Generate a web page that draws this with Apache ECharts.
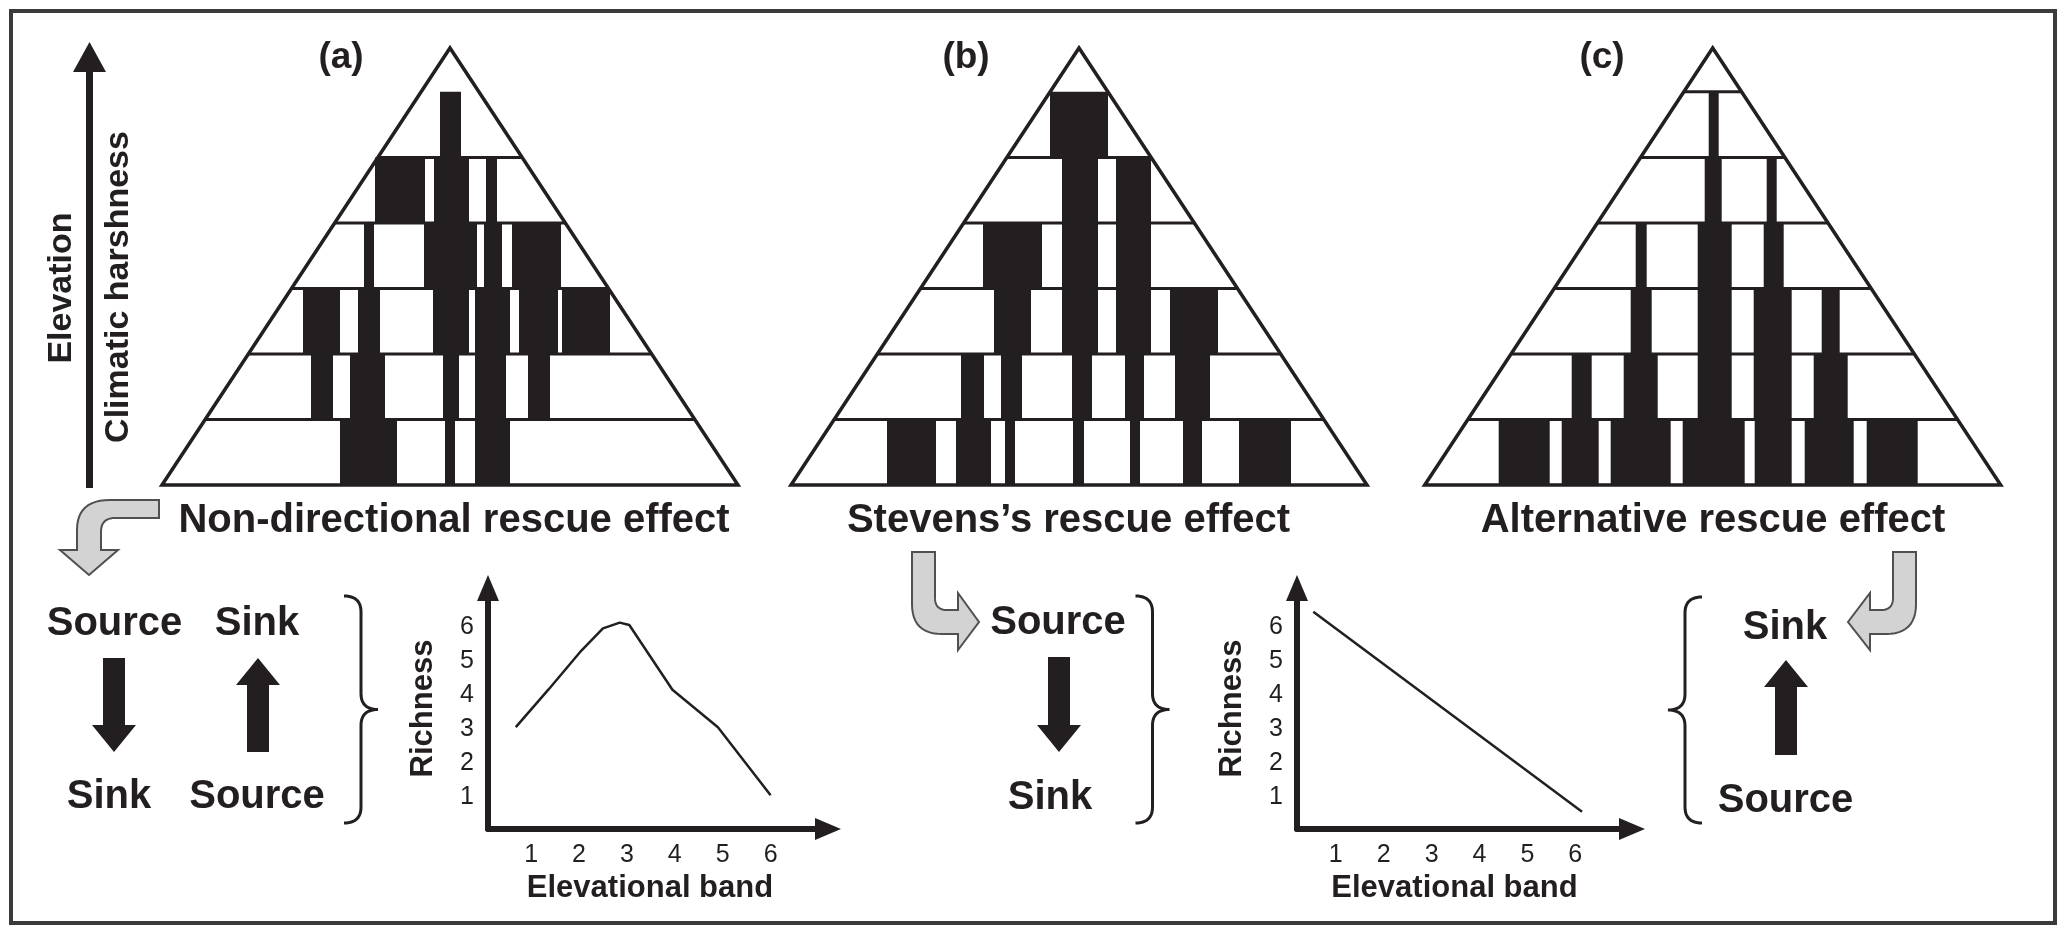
<!DOCTYPE html>
<html><head><meta charset="utf-8">
<script src="https://cdn.jsdelivr.net/npm/echarts@6/dist/echarts.min.js"></script>
<style>html,body{margin:0;padding:0;background:#fff;}#c{width:2064px;height:927px;}</style>
</head><body><div id="c"></div>
<script>
// ---------------- data ----------------
const panelLabels = ['(a)', '(b)', '(c)'];
const effectNames = ['Non-directional rescue effect', 'Stevens\u2019s rescue effect', 'Alternative rescue effect'];
// pyramid outline in (position, band) units: base corners and apex
const pyramidOutline = [[-288, 0], [0, 6.67], [288, 0]];
const bandBoundariesA = [1, 2, 3, 4, 5];
const bandBoundariesB = [1, 2, 3, 4, 5];
const bandBoundariesC = [1, 2, 3, 4, 5, 6];
// species range blocks: [left, right, band]  (band 1 = lowest elevation)
const rangesA = [
  [-10, 11, 6],
  [-75, -25, 5], [-16, 19, 5], [36, 47, 5],
  [-86, -76, 4], [-26, 27, 4], [34, 52, 4], [62, 111, 4],
  [-147, -110, 3], [-92, -70, 3], [-17, 19, 3], [25, 60, 3], [69, 108, 3], [112, 160, 3],
  [-139, -117, 2], [-100, -65, 2], [-7, 9, 2], [25, 56, 2], [78, 100, 2],
  [-110, -53, 1], [-5, 5, 1], [25, 60, 1]
];
const rangesB = [
  [-29, 29, 6],
  [-17, 19, 5], [37, 72, 5],
  [-96, -37, 4], [-17, 19, 4], [37, 72, 4],
  [-85, -48, 3], [-17, 19, 3], [37, 72, 3], [91, 139, 3],
  [-118, -95, 2], [-78, -57, 2], [-7, 13, 2], [46, 65, 2], [96, 131, 2],
  [-192, -143, 1], [-123, -88, 1], [-74, -64, 1], [-6, 5, 1], [51, 61, 1], [104, 123, 1], [160, 212, 1]
];
const rangesC = [
  [-4, 6, 6],
  [-8, 9, 5], [54, 64, 5],
  [-77, -66, 4], [-15, 19, 4], [51, 71, 4],
  [-82, -61, 3], [-15, 19, 3], [41, 79, 3], [109, 127, 3],
  [-141, -121, 2], [-89, -55, 2], [-15, 19, 2], [41, 79, 2], [101, 135, 2],
  [-214, -163, 1], [-151, -114, 1], [-102, -42, 1], [-30, 32, 1], [42, 79, 1], [92, 141, 1], [154, 205, 1]
];
const bandTicks = [1, 2, 3, 4, 5, 6];
const richnessTicks = [1, 2, 3, 4, 5, 6];
// richness curves
const humpBand = [0.68, 1.36, 2.05, 2.5, 2.85, 3.05, 3.95, 4.9, 6.0];
const humpRichness = [3.05, 4.15, 5.3, 5.95, 6.12, 6.05, 4.15, 3.05, 1.05];
const declineBand = [0.53, 6.14];
const declineRichness = [6.44, 0.57];

// ---------------- layout / style ----------------
const INK = '#231f20';
const FONT = '"Liberation Sans", Arial, Helvetica, sans-serif';
const pyramidCenters = [450, 1079, 1712.7];
const halfBase = pyramidOutline[2][0];
const apexH = pyramidOutline[1][1];
const rangeSets = [rangesA, rangesB, rangesC];
const boundarySets = [bandBoundariesA, bandBoundariesB, bandBoundariesC];

const grids = [], xAxes = [], yAxes = [], series = [];
pyramidCenters.forEach((c, i) => {
  grids.push({left: c - 290, width: 580, top: 46, height: 439});
  xAxes.push({type: 'value', gridIndex: i, min: -290, max: 290, show: false});
  yAxes.push({type: 'value', gridIndex: i, min: 0, max: 6.7, show: false});
  series.push({
    type: 'custom', xAxisIndex: i, yAxisIndex: i, z: 1,
    data: boundarySets[i].map(k => [0, k]),
    renderItem: (params, api) => {
      const k = api.value(1);
      const hw = halfBase * (apexH - k) / apexH;
      const p0 = api.coord([-hw, k]), p1 = api.coord([hw, k]);
      return {type: 'line', shape: {x1: p0[0], y1: p0[1], x2: p1[0], y2: p1[1]},
        style: {stroke: INK, lineWidth: 3}};
    }
  });
  series.push({
    type: 'custom', xAxisIndex: i, yAxisIndex: i, z: 2,
    data: rangeSets[i], encode: {x: [0, 1], y: 2},
    renderItem: (params, api) => {
      const p0 = api.coord([api.value(0), api.value(2)]);
      const p1 = api.coord([api.value(1), api.value(2) - 1]);
      return {type: 'rect', shape: {x: p0[0], y: p0[1], width: p1[0] - p0[0], height: p1[1] - p0[1]},
        style: {fill: INK}};
    }
  });
  series.push({
    type: 'custom', xAxisIndex: i, yAxisIndex: i, z: 3,
    data: [[0, 0]],
    renderItem: (params, api) => ({
      type: 'polygon', shape: {points: pyramidOutline.map(p => api.coord(p))},
      style: {fill: 'none', stroke: INK, lineWidth: 3.5, lineJoin: 'miter'}
    })
  });
});

function richnessChart(gi, left, width, xmin, namePad) {
  grids.push({left: left, width: width, top: 588, height: 241});
  const axisLine = {show: true, symbol: ['none', 'triangle'], symbolSize: [22, 26],
    lineStyle: {color: INK, width: 6}};
  xAxes.push({type: 'value', gridIndex: gi, min: xmin, max: xmin + width / 47.9,
    axisLine: axisLine, axisTick: {show: false}, splitLine: {show: false},
    axisLabel: {customValues: bandTicks, color: INK, fontSize: 25, fontFamily: FONT, margin: 14},
    name: 'Elevational band', nameLocation: 'middle', nameGap: 44,
    nameTextStyle: {color: INK, fontSize: 31, fontWeight: 'bold', fontFamily: FONT, padding: namePad}});
  yAxes.push({type: 'value', gridIndex: gi, min: 0.06, max: 0.06 + 241 / 34.06,
    axisLine: axisLine, axisTick: {show: false}, splitLine: {show: false},
    axisLabel: {customValues: richnessTicks, color: INK, fontSize: 25, fontFamily: FONT, margin: 14},
    name: 'Richness', nameLocation: 'middle', nameGap: 49,
    nameTextStyle: {color: INK, fontSize: 31, fontWeight: 'bold', fontFamily: FONT}});
}
richnessChart(3, 488, 340, 0.1, [0, 16, 0, 0]);
richnessChart(4, 1297, 335, 0.19, [0, 20, 0, 0]);
series.push({type: 'line', xAxisIndex: 3, yAxisIndex: 3, symbol: 'none', z: 5,
  data: humpBand.map((b, i) => [b, humpRichness[i]]), lineStyle: {color: INK, width: 2.5}});
series.push({type: 'line', xAxisIndex: 4, yAxisIndex: 4, symbol: 'none', z: 5,
  data: declineBand.map((b, i) => [b, declineRichness[i]]), lineStyle: {color: INK, width: 2.5}});

// ---------------- annotations ----------------
// tiny path sampler (M, L, Q, Z) -> point list for polygon/polyline
function pathPoints(d) {
  const tok = d.match(/[MLQZ]|-?\d*\.?\d+/g);
  const pts = []; let i = 0, cmd = null, cur = [0, 0];
  while (i < tok.length) {
    if (/[MLQZ]/.test(tok[i])) { cmd = tok[i++]; if (cmd === 'Z') continue; }
    if (cmd === 'M' || cmd === 'L') {
      cur = [+tok[i], +tok[i + 1]]; i += 2; pts.push(cur);
    } else if (cmd === 'Q') {
      const c = [+tok[i], +tok[i + 1]], e = [+tok[i + 2], +tok[i + 3]]; i += 4;
      for (let t = 1; t <= 12; t++) {
        const s = t / 12, u = 1 - s;
        pts.push([u * u * cur[0] + 2 * u * s * c[0] + s * s * e[0], u * u * cur[1] + 2 * u * s * c[1] + s * s * e[1]]);
      }
      cur = e;
    } else { i++; }
  }
  return pts;
}
function txt(text, x, y, size, weight, rot) {
  return {type: 'text', x: x, y: y, rotation: rot || 0, z: 10,
    style: {text: text, x: 0, y: 0, fill: INK, fontSize: size, fontWeight: weight, fontFamily: FONT,
      align: 'center', verticalAlign: 'middle'}};
}
function blockArrow(cx, y0, y1, up) {
  const s = 11, h = 22, L = 27;
  const pts = up
    ? [[cx, y0], [cx + h, y0 + L], [cx + s, y0 + L], [cx + s, y1], [cx - s, y1], [cx - s, y0 + L], [cx - h, y0 + L]]
    : [[cx - s, y0], [cx + s, y0], [cx + s, y1 - L], [cx + h, y1 - L], [cx, y1], [cx - h, y1 - L], [cx - s, y1 - L]];
  return {type: 'polygon', z: 10, shape: {points: pts}, style: {fill: INK}};
}
function brace(tipX, pointX, top, bottom) {
  const sp = (tipX + pointX) / 2, mid = (top + bottom) / 2, r = 16;
  const d = `M${tipX} ${top} Q${sp} ${top} ${sp} ${top + r} L${sp} ${mid - r} Q${sp} ${mid} ${pointX} ${mid} ` +
    `Q${sp} ${mid} ${sp} ${mid + r} L${sp} ${bottom - r} Q${sp} ${bottom} ${tipX} ${bottom}`;
  return {type: 'polyline', z: 10, shape: {points: pathPoints(d)}, style: {fill: null, stroke: INK, lineWidth: 3}};
}
function grayArrow(d) {
  return {type: 'polygon', z: 10, shape: {points: pathPoints(d)}, style: {fill: '#d3d3d3', stroke: '#505050', lineWidth: 2}};
}

const gfx = [];
gfx.push({type: 'rect', z: 0, shape: {x: 11, y: 11, width: 2044, height: 912},
  style: {fill: 'none', stroke: '#3a3a3a', lineWidth: 4}});
// elevation arrow
gfx.push({type: 'rect', z: 10, shape: {x: 86, y: 70, width: 7, height: 418}, style: {fill: INK}});
gfx.push({type: 'polygon', z: 10, shape: {points: [[73, 72], [89.5, 42], [106, 72]]}, style: {fill: INK}});
gfx.push(txt('Elevation', 62, 288, 34, 'bold', Math.PI / 2));
gfx.push(txt('Climatic harshness', 119, 287, 34, 'bold', Math.PI / 2));
// panel labels & effect names
const labelX = [341, 966, 1602];
const effectX = [454, 1068.5, 1713];
panelLabels.forEach((t, i) => gfx.push(txt(t, labelX[i], 58, 37, 'bold')));
effectNames.forEach((t, i) => gfx.push(txt(t, effectX[i], 521, 40, 'bold')));
// gray turning arrows
gfx.push(grayArrow('M159 500 L110 500 Q77 500 77 530 L77 550 L60 550 L89 575 L118 550 L101 550 L101 532 Q101 518 115 518 L159 518 Z'));
gfx.push(grayArrow('M912 552 L935 552 L935 598 Q935 610 947 610 L958 610 L958 593 L979 622 L958 650 L958 634 L942 634 Q912 634 912 604 Z'));
gfx.push(grayArrow('M1916 552 L1893 552 L1893 598 Q1893 610 1881 610 L1870 610 L1870 593 L1848 622 L1870 650 L1870 634 L1886 634 Q1916 634 1916 604 Z'));
// source / sink groups
gfx.push(txt('Source', 114.5, 624, 40, 'bold'));
gfx.push(txt('Sink', 257, 624, 40, 'bold'));
gfx.push(txt('Sink', 109, 797, 40, 'bold'));
gfx.push(txt('Source', 257, 797, 40, 'bold'));
gfx.push(blockArrow(114, 658, 752, false));
gfx.push(blockArrow(258, 658, 752, true));
gfx.push(brace(344, 378, 596, 823));

gfx.push(txt('Source', 1058, 622.5, 40, 'bold'));
gfx.push(txt('Sink', 1050, 797.5, 40, 'bold'));
gfx.push(blockArrow(1059, 657, 752, false));
gfx.push(brace(1135.5, 1169.5, 596, 823));

gfx.push(txt('Sink', 1785, 628, 40, 'bold'));
gfx.push(txt('Source', 1785.5, 801, 40, 'bold'));
gfx.push(blockArrow(1786, 660, 755, true));
gfx.push(brace(1702, 1668, 597, 823));

const chart = echarts.init(document.getElementById('c'), null, {renderer: 'canvas'});
chart.setOption({
  animation: false,
  backgroundColor: '#ffffff',
  grid: grids,
  xAxis: xAxes,
  yAxis: yAxes,
  series: series,
  graphic: {elements: gfx}
});
</script>
</body></html>
